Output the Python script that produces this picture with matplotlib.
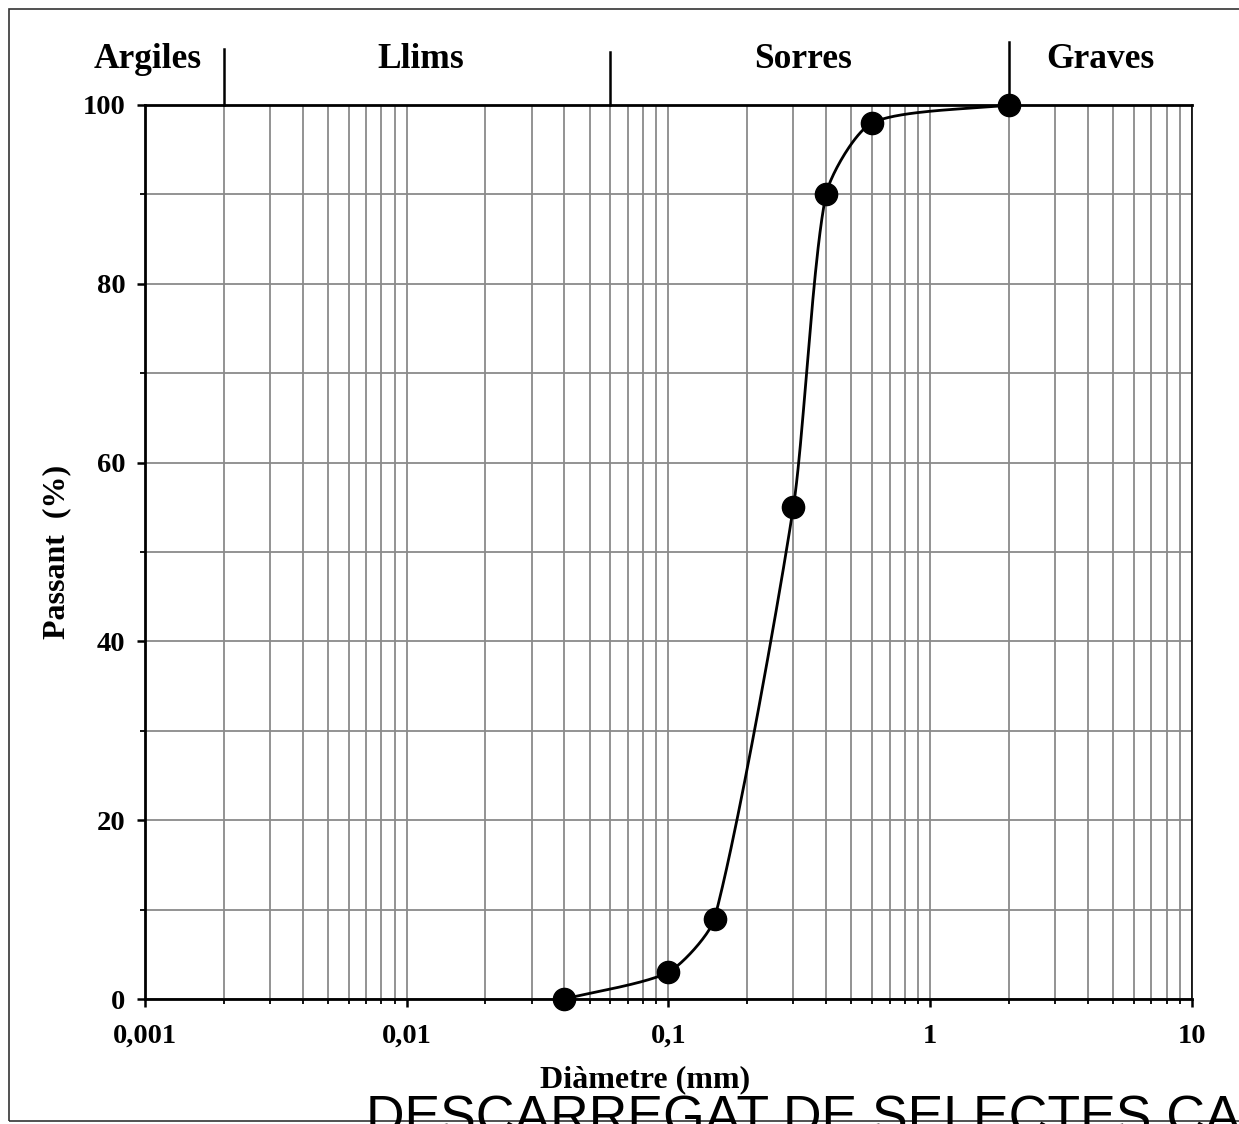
import numpy as np
import matplotlib
matplotlib.use("Agg")
import matplotlib.pyplot as plt
from matplotlib.patches import Rectangle
from matplotlib.ticker import LogLocator, FixedLocator, FuncFormatter, NullFormatter

# sieve data: diameter (mm) vs passing (%)
diametre = [0.04, 0.1, 0.15, 0.3, 0.4, 0.6, 2.0]
passant = [0, 3, 9, 55, 90, 98, 100]

# soil classes on top of the chart
classes = ["Argiles", "Llims", "Sorres", "Graves"]
limits = [0.002, 0.06, 2.0]

x_ticks = [0.001, 0.01, 0.1, 1, 10]
y_ticks = [0, 20, 40, 60, 80, 100]

serif = "Liberation Serif"


def smooth_line(ax, xs, ys, k=0.22, n=40):
    # Excel-like smoothed line built in screen space, then mapped back to data
    pts = ax.transData.transform(np.column_stack([xs, ys]))
    ext = np.vstack([pts[0], pts, pts[-1]])
    out = []
    for i in range(1, len(ext) - 2):
        p0, p1, p2, p3 = ext[i - 1], ext[i], ext[i + 1], ext[i + 2]
        L = np.linalg.norm(p2 - p1)
        t1 = (p2 - p0) / np.linalg.norm(p2 - p0)
        t2 = (p3 - p1) / np.linalg.norm(p3 - p1)
        c1 = p1 + t1 * L * k
        c2 = p2 - t2 * L * k
        t = np.linspace(0, 1, n)[:, None]
        seg = (1 - t) ** 3 * p1 + 3 * (1 - t) ** 2 * t * c1 + 3 * (1 - t) * t ** 2 * c2 + t ** 3 * p2
        out.append(seg)
    out = ax.transData.inverted().transform(np.vstack(out))
    return out[:, 0], out[:, 1]


fig = plt.figure(figsize=(12.39, 11.24), dpi=100)
ax = fig.add_axes([0.117, 0.1112, 0.845, 0.7954])

ax.set_xscale("log")
ax.set_xlim(0.001, 10)
ax.set_ylim(0, 100)

# grid
ax.xaxis.set_major_locator(FixedLocator(x_ticks))
ax.xaxis.set_minor_locator(LogLocator(base=10, subs=np.arange(2, 10)))
ax.xaxis.set_minor_formatter(NullFormatter())
ax.xaxis.set_major_formatter(FuncFormatter(lambda v, p: ("%g" % v).replace(".", ",")))
ax.yaxis.set_major_locator(FixedLocator(y_ticks))
ax.yaxis.set_minor_locator(FixedLocator([10, 30, 50, 70, 90]))
ax.grid(True, which="both", color="#8a8a8a", linewidth=1.3)
ax.set_axisbelow(True)

ax.tick_params(which="major", direction="out", length=6, width=1.8, color="black", pad=8)
ax.tick_params(which="minor", direction="out", length=3.5, width=1.3, color="black")
ax.tick_params(axis="x", which="major", pad=12)
for lab in ax.get_xticklabels() + ax.get_yticklabels():
    lab.set_fontfamily(serif)
    lab.set_fontweight("bold")
    lab.set_fontsize(20.5)

for side in ["left", "bottom", "top"]:
    ax.spines[side].set_linewidth(2.0)
    ax.spines[side].set_color("black")
ax.spines["right"].set_linewidth(1.2)
ax.spines["right"].set_color("black")

# curve and points
cx, cy = smooth_line(ax, diametre, passant)
ax.plot(cx, cy, color="black", linewidth=2.0, zorder=4, clip_on=False)
ax.plot(diametre, passant, "o", color="black", markersize=16, zorder=5, clip_on=False)

# class separators and names
sep_tops = [1.063, 1.059, 1.070]
for lim, top in zip(limits, sep_tops):
    ax.plot([lim, lim], [1, top], color="black", linewidth=1.8,
            transform=ax.get_xaxis_transform(), clip_on=False)
label_x = [0.003, 0.263, 0.629, 0.913]
for name, lx in zip(classes, label_x):
    ax.text(lx, 1.041, name, transform=ax.transAxes, ha="center", va="baseline",
            fontsize=25.5, fontweight="bold", family=serif)

ax.set_xlabel("Diàmetre (mm)", fontsize=23, fontweight="bold", family=serif)
ax.xaxis.set_label_coords(0.478, -0.09)
ax.xaxis.label.set_verticalalignment("center")
ax.set_ylabel("Passant  (%)", fontsize=23, fontweight="bold", family=serif)
ax.yaxis.set_label_coords(-0.084, 0.5)
ax.yaxis.label.set_verticalalignment("center")

# outer frame
fig.patches.append(Rectangle((9 / 1239, 3 / 1124), 1.1, 1112 / 1124, transform=fig.transFigure,
                             fill=False, edgecolor="#333333", linewidth=1.2))

fig.text(366 / 1239, -9 / 1124, "DESCARREGAT DE SELECTES.CA", fontsize=38.5,
         family="Liberation Sans", color="black", va="baseline", ha="left")

fig.savefig("out.png", dpi=100)
